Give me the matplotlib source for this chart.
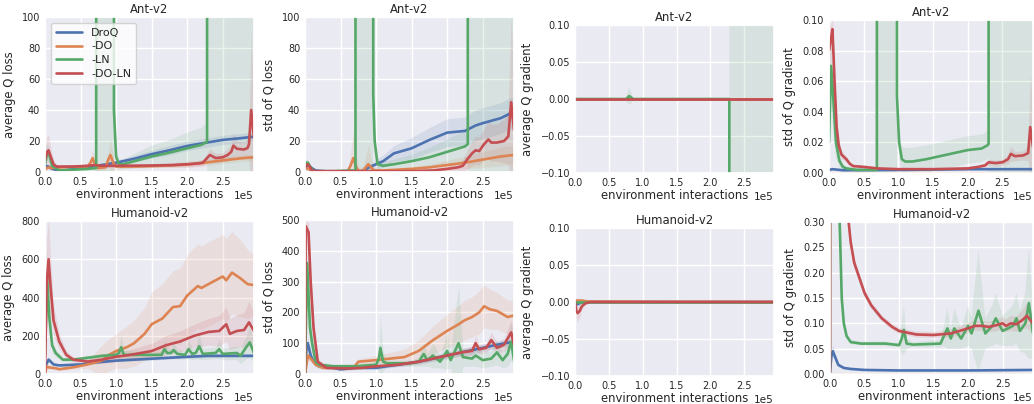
import numpy as np
import matplotlib
matplotlib.use("Agg")
import matplotlib.pyplot as plt
import seaborn as sns

sns.set_theme(style="darkgrid")
plt.rcParams['font.family'] = ['DejaVu Sans']
fs = 8.4      # titles and axis labels
tfs = 7.0     # tick labels

names = ["DroQ", "-DO", "-LN", "-DO-LN"]
colors = sns.color_palette("deep")[:4]
OFF = 1e4      # diverged run, value far off the chart
WIDE = 1e5     # diverged run, band covers whole axis

# every series: list of (interactions in thousands, value, half band width)

# ---- Ant-v2, average Q loss
ant_qloss_droq = [(0, 4, 1), (5, 3.5, 1), (10, 2, 1), (20, 1, .5), (30, 1.2, .5), (50, 2.5, .8), (70, 3.8, 1),
                  (100, 6, 1.5), (125, 8.5, 2), (150, 11.5, 2.5), (175, 14, 3), (200, 16.8, 3), (225, 18.8, 3),
                  (250, 20.7, 3), (275, 21.8, 3), (294, 22.8, 3)]
ant_qloss_do = [(0, 2, 1), (5, 3, 1.5), (10, 2.5, 1), (20, 3, 1), (40, 3.5, 1), (60, 3.5, 1), (64, 6, 3),
                (67, 9, 6), (70, 5, 4), (75, 2.5, 2), (85, 3, 2), (89, 8, 5), (92, 11, 10), (96, 6, 5),
                (100, 3.5, 2), (125, 3.5, 1), (150, 3.8, 1), (175, 4.2, 1), (200, 4.8, 1.5), (225, 6, 2),
                (250, 7.5, 2), (275, 8.8, 2), (294, 9.5, 2)]
ant_qloss_ln = [(0, 5, 2), (3, 12, 6), (6, 11, 5), (10, 4, 2), (20, 1, 1), (40, 1.5, 1), (60, 2, 1),
                (72, 2.5, 1.5), (73, OFF, WIDE), (95, OFF, WIDE), (97, 40, 15), (100, 10, 5), (104, 5, 3),
                (110, 5, 3), (130, 7.5, 5), (150, 10, 7), (175, 12.5, 8), (200, 15.3, 10), (220, 17.5, 11),
                (228, 19.5, 12), (229, OFF, WIDE), (294, OFF, WIDE)]
ant_qloss_doln = [(0, 8, 8), (3, 13, 10), (5, 14, 10), (8, 10, 6), (12, 5, 3), (16, 3.5, 1.5), (20, 3.5, 1),
                  (40, 3.5, 1), (60, 4, 1), (70, 4.5, 1), (80, 4, 1), (100, 4, 1), (150, 4.2, 1), (180, 4.5, 1.5),
                  (200, 5, 2), (215, 5.5, 2), (222, 6, 2), (228, 9, 3), (232, 11, 4), (240, 9, 3), (250, 9.5, 3),
                  (257, 11, 4), (262, 13, 5), (265, 17, 8), (270, 15, 5), (280, 14.5, 5), (285, 15.5, 6),
                  (287, 18, 10), (290, 40, 50), (294, 22, 20)]

# ---- Ant-v2, std of Q loss
ant_qstd_droq = [(0, 2, 1), (4, 5, 2), (8, 3, 1), (15, 1, .5), (30, .5, .5), (80, .5, .5), (90, 3, 1.5),
                 (100, 5, 3), (110, 7, 4), (125, 12, 5), (150, 15.3, 7), (175, 20.7, 8), (200, 25.4, 9),
                 (225, 26.5, 9), (240, 30, 10), (250, 31.5, 10), (275, 34.7, 10), (290, 38, 10), (294, 37.5, 10)]
ant_qstd_do = [(0, 3, 2), (5, 2, 1), (10, .5, .5), (60, .5, .5), (64, 4, 8), (68, 9, 17), (72, 3, 8),
               (76, .5, 2), (82, 1, 3), (89, 5, 12), (93, 3, 6), (97, 1, 2), (110, 1, 1), (150, 2, 1.5),
               (175, 3, 2), (200, 4.5, 3), (225, 6, 4), (250, 8, 5), (275, 10, 6), (294, 11, 6)]
ant_qstd_ln = [(0, 6, 2), (4, 6, 2), (8, 3, 1), (12, .5, .5), (40, .5, .5), (71, 1, 1), (72, OFF, WIDE),
               (95, OFF, WIDE), (96, 50, 20), (98, 20, 8), (102, 5, 3), (110, 4, 2), (125, 5, 3), (150, 7, 4),
               (175, 9.5, 6), (200, 13, 8), (225, 16.5, 10), (229, 18, 12), (230, OFF, WIDE), (294, OFF, WIDE)]
ant_qstd_doln = [(0, 3, 2), (3, 5, 3), (6, 4, 2), (10, 1, 1), (15, .5, .5), (150, .5, .5), (180, 1, 1),
                 (200, 2, 2), (215, 3, 3), (222, 4, 4), (228, 8, 6), (235, 12, 8), (240, 14, 9),
                 (245, 13.5, 9), (252, 18, 10), (258, 21, 12), (262, 19, 12), (270, 19, 12), (280, 20, 14),
                 (286, 23, 18), (290, 45, 55), (294, 27, 30)]

# ---- Ant-v2, average Q gradient
ant_gmean_droq = [(0, 0, .0005), (294, 0, .0005)]
ant_gmean_do = [(0, 0, .0005), (294, 0, .0005)]
ant_gmean_ln = [(0, 0, .001), (75, 0, .001), (78, .002, .008), (80, .004, .012), (83, .002, .008),
                (86, 0, .001), (228, 0, .001), (229, -OFF, WIDE), (294, -OFF, WIDE)]
ant_gmean_doln = [(0, 0, .0005), (294, 0, .0005)]

# ---- Ant-v2, std of Q gradient
ant_gstd_droq = [(0, .002, .0005), (5, .0025, .0005), (20, .0018, .0004), (100, .002, .0004),
                 (200, .0025, .0005), (294, .0025, .0005)]
ant_gstd_do = [(0, .0003, .0002), (294, .0003, .0002)]
ant_gstd_ln = [(0, .02, .01), (3, .07, .02), (6, .05, .02), (10, .02, .01), (15, .008, .004),
               (20, .004, .002), (25, .003, .001), (40, .002, .001), (69, .002, .001), (70, OFF, WIDE),
               (96, OFF, WIDE), (98, .05, .02), (101, .02, .01), (105, .009, .008), (110, .0075, .009),
               (120, .0075, .009), (140, .009, .009), (160, .011, .009), (180, .013, .009), (200, .015, .009),
               (220, .016, .009), (228, .018, .009), (230, .019, .009), (231, OFF, WIDE), (294, OFF, WIDE)]
ant_gstd_doln = [(0, .08, .015), (3, .088, .01), (5, .094, .008), (8, .06, .008), (11, .03, .006),
                 (14, .018, .004), (18, .012, .003), (25, .009, .002), (30, .006, .001), (35, .0045, .001),
                 (50, .004, .001), (70, .003, .0008), (100, .0025, .0008), (150, .0025, .0008), (200, .003, .001),
                 (215, .004, .001), (225, .005, .0015), (230, .007, .002), (240, .0065, .002), (250, .007, .002),
                 (258, .009, .003), (262, .0125, .005), (268, .011, .003), (280, .0115, .003), (287, .013, .005),
                 (290, .03, .035), (294, .017, .02)]

# ---- Humanoid-v2, average Q loss
hum_qloss_droq = [(0, 40, 10), (3, 60, 15), (5, 75, 15), (8, 65, 12), (12, 50, 8), (20, 45, 6), (50, 50, 6),
                  (70, 60, 6), (100, 70, 6), (150, 80, 8), (200, 90, 8), (230, 95, 8), (294, 95, 8)]
hum_qloss_do = [(0, 0, 5), (2, 40, 15), (5, 35, 10), (15, 30, 8), (20, 25, 8), (40, 35, 10), (60, 50, 20),
                (80, 70, 80), (90, 100, 85), (100, 120, 90), (115, 140, 110), (125, 160, 120), (140, 210, 140),
                (150, 260, 170), (165, 290, 180), (180, 350, 190), (190, 355, 200), (200, 410, 215),
                (215, 460, 220), (220, 450, 220), (230, 470, 220), (240, 490, 220), (250, 510, 220),
                (255, 490, 220), (263, 530, 215), (275, 500, 200), (285, 470, 180), (294, 465, 160)]
hum_qloss_ln = [(0, 100, 50), (3, 500, 150), (6, 300, 100), (10, 150, 40), (15, 110, 20), (25, 75, 10),
                (40, 75, 10), (60, 85, 10), (80, 95, 12), (100, 100, 15), (104, 110, 30), (107, 140, 70),
                (111, 100, 25), (150, 100, 15), (164, 100, 20), (168, 130, 50), (172, 110, 30),
                (177, 110, 25), (181, 125, 40), (186, 105, 25), (197, 100, 20), (202, 130, 50),
                (207, 105, 30), (212, 110, 30), (217, 145, 70), (222, 105, 30), (240, 110, 30),
                (245, 130, 50), (250, 105, 30), (270, 110, 35), (275, 95, 40), (283, 140, 60),
                (288, 165, 80), (294, 110, 50)]
hum_qloss_doln = [(0, 0, 50), (2, 450, 250), (5, 600, 220), (8, 450, 150), (12, 280, 80), (20, 170, 40),
                  (30, 100, 20), (40, 75, 15), (60, 65, 15), (80, 75, 20), (100, 90, 25), (120, 100, 30),
                  (150, 120, 40), (170, 150, 50), (190, 170, 55), (210, 200, 60), (230, 220, 70),
                  (245, 225, 80), (255, 260, 90), (260, 210, 80), (270, 225, 85), (280, 230, 90),
                  (287, 270, 110), (294, 225, 90)]

# ---- Humanoid-v2, std of Q loss
hum_qstd_droq = [(0, 0, 10), (2, 80, 20), (4, 100, 20), (8, 60, 15), (12, 40, 10), (20, 25, 6), (40, 20, 5),
                 (50, 15, 5), (70, 20, 5), (100, 20, 5), (130, 30, 6), (160, 40, 8), (190, 55, 10),
                 (210, 65, 10), (240, 80, 12), (270, 95, 12), (294, 105, 12)]
hum_qstd_do = [(0, 0, 5), (4, 60, 15), (10, 45, 10), (15, 30, 8), (25, 20, 5), (50, 20, 5), (70, 25, 8),
               (75, 40, 10), (100, 45, 15), (120, 50, 20), (140, 55, 25), (160, 75, 35), (180, 110, 45),
               (200, 140, 55), (215, 160, 60), (225, 175, 65), (235, 185, 65), (245, 200, 70), (252, 220, 70),
               (260, 210, 65), (270, 205, 60), (285, 185, 55), (294, 190, 50)]
hum_qstd_ln = [(0, 0, 20), (3, 360, 100), (7, 150, 60), (10, 100, 40), (15, 40, 15), (20, 30, 10),
               (40, 25, 8), (70, 25, 8), (100, 30, 10), (104, 50, 40), (106, 85, 100), (110, 40, 30),
               (115, 35, 10), (150, 35, 10), (160, 40, 15), (167, 65, 40), (172, 45, 20), (180, 60, 40),
               (190, 40, 20), (200, 75, 60), (205, 45, 25), (216, 100, 190), (222, 55, 30), (235, 50, 25),
               (240, 60, 35), (250, 45, 25), (262, 50, 25), (270, 70, 40), (278, 45, 25), (285, 65, 40),
               (290, 105, 60), (294, 45, 30)]
hum_qstd_doln = [(0, 0, 20), (1, 480, 20), (5, 460, 30), (8, 300, 40), (12, 150, 30), (18, 40, 10),
                 (30, 20, 5), (60, 18, 5), (80, 20, 5), (100, 25, 5), (130, 30, 6), (160, 40, 8), (180, 50, 8),
                 (200, 60, 10), (220, 70, 12), (235, 75, 15), (240, 100, 25), (245, 80, 15), (255, 85, 15),
                 (262, 110, 25), (270, 85, 18), (280, 95, 20), (290, 135, 40), (294, 95, 25)]

# ---- Humanoid-v2, average Q gradient
hum_gmean_droq = [(0, 0, .001), (3, -.003, .002), (6, -.002, .002), (12, 0, .0005), (294, 0, .0005)]
hum_gmean_do = [(0, .002, .001), (10, .002, .001), (20, .0005, .0005), (294, 0, .0005)]
hum_gmean_ln = [(0, 0, .0005), (294, 0, .0005)]
hum_gmean_doln = [(0, 0, .002), (2, -.012, .01), (4, -.015, .012), (7, -.012, .008), (10, -.006, .004),
                  (15, -.002, .002), (22, 0, .001), (294, 0, .0005)]

# ---- Humanoid-v2, std of Q gradient
hum_gstd_droq = [(0, .005, .003), (2, .035, .01), (4, .045, .012), (7, .035, .008), (12, .018, .004),
                 (20, .012, .002), (30, .01, .002), (50, .008, .001), (100, .007, .001), (200, .007, .001),
                 (294, .008, .001)]
hum_gstd_do = [(0, 0, .0005), (294, 0, .0005)]
hum_gstd_ln = [(0, 0, .05), (1, 2, .5), (12, .4, .1), (14, .3, .05), (17, .15, .02), (20, .1, .01),
               (24, .075, .005), (30, .063, .004), (45, .06, .004), (80, .06, .004), (100, .057, .004),
               (104, .07, .03), (107, .087, .05), (111, .06, .01), (120, .058, .005), (160, .06, .008),
               (165, .075, .02), (170, .09, .04), (175, .07, .02), (180, .09, .04), (190, .07, .02),
               (200, .095, .04), (205, .08, .03), (215, .125, .12), (225, .08, .03), (235, .095, .04),
               (240, .11, .05), (250, .085, .03), (265, .095, .04), (270, .11, .05), (275, .085, .04),
               (283, .1, .06), (288, .14, .11), (294, .08, .05)]
hum_gstd_doln = [(0, 0, .05), (1, 2, .5), (20, .5, .05), (27, .3, .02), (30, .26, .015), (35, .22, .012),
                 (40, .2, .01), (50, .16, .008), (60, .135, .007), (75, .11, .006), (90, .093, .006),
                 (100, .085, .006), (125, .078, .006), (150, .077, .006), (175, .08, .008), (200, .09, .01),
                 (210, .095, .01), (220, .095, .01), (230, .093, .01), (240, .096, .012), (250, .1, .012),
                 (255, .095, .012), (262, .1, .015), (270, .098, .015), (280, .108, .02), (285, .115, .025),
                 (294, .1, .02)]

W, H = 1034, 404
fig = plt.figure(figsize=(W / 100, H / 100), dpi=100)


def box(l, t, r, b):
    return [l / W, 1 - b / H, (r - l) / W, (b - t) / H]


panels = [
    (box(45, 17, 254, 172), [ant_qloss_droq, ant_qloss_do, ant_qloss_ln, ant_qloss_doln],
     (0, 100), np.arange(0, 101, 20), "average Q loss", "Ant-v2"),
    (box(305, 17, 514, 172), [ant_qstd_droq, ant_qstd_do, ant_qstd_ln, ant_qstd_doln],
     (0, 100), np.arange(0, 101, 20), "std of Q loss", "Ant-v2"),
    (box(575, 25, 774, 173), [ant_gmean_droq, ant_gmean_do, ant_gmean_ln, ant_gmean_doln],
     (-0.1, 0.1), np.linspace(-0.1, 0.1, 5), "average Q gradient", "Ant-v2"),
    (box(829, 20, 1033, 173), [ant_gstd_droq, ant_gstd_do, ant_gstd_ln, ant_gstd_doln],
     (0, 0.1), np.linspace(0, 0.1, 6), "std of Q gradient", "Ant-v2"),
    (box(45, 221, 254, 374), [hum_qloss_droq, hum_qloss_do, hum_qloss_ln, hum_qloss_doln],
     (0, 800), np.arange(0, 801, 200), "average Q loss", "Humanoid-v2"),
    (box(305, 220, 514, 374), [hum_qstd_droq, hum_qstd_do, hum_qstd_ln, hum_qstd_doln],
     (0, 500), np.arange(0, 501, 100), "std of Q loss", "Humanoid-v2"),
    (box(575, 228, 774, 376), [hum_gmean_droq, hum_gmean_do, hum_gmean_ln, hum_gmean_doln],
     (-0.1, 0.1), np.linspace(-0.1, 0.1, 5), "average Q gradient", "Humanoid-v2"),
    (box(830, 222, 1033, 374), [hum_gstd_droq, hum_gstd_do, hum_gstd_ln, hum_gstd_doln],
     (0, 0.3), np.linspace(0, 0.3, 7), "std of Q gradient", "Humanoid-v2"),
]

for i, (pos, series, ylim, yticks, ylabel, title) in enumerate(panels):
    ax = fig.add_axes(pos)
    for pts, c, n in zip(series, colors, names):
        a = np.array(pts, dtype=float)
        x = a[:, 0] * 1e3
        y = a[:, 1]
        s = a[:, 2]
        ax.fill_between(x, y - s, y + s, color=c, alpha=0.13, lw=0)
        ax.plot(x, y, color=c, lw=1.9, label=n)
    ax.set_xlim(0, 294e3)
    ax.set_ylim(*ylim)
    ax.set_yticks(yticks)
    ax.set_xticks(np.arange(0, 2.6e5, 0.5e5))
    ax.ticklabel_format(axis='x', style='sci', scilimits=(0, 0))
    ax.xaxis.get_offset_text().set_fontsize(tfs + 0.6)
    ax.tick_params(labelsize=tfs, length=0, pad=3.5)
    ax.set_xlabel("environment interactions", fontsize=fs, labelpad=1)
    ax.set_ylabel(ylabel, fontsize=fs, labelpad=4.5)
    ax.set_title(title, fontsize=fs, pad=3)
    if i == 0:
        ax.legend(loc="upper left", fontsize=8, handlelength=2.4, labelspacing=0.35,
                  borderpad=0.45, facecolor="white", framealpha=0.8)

fig.savefig("out.png", dpi=100)
